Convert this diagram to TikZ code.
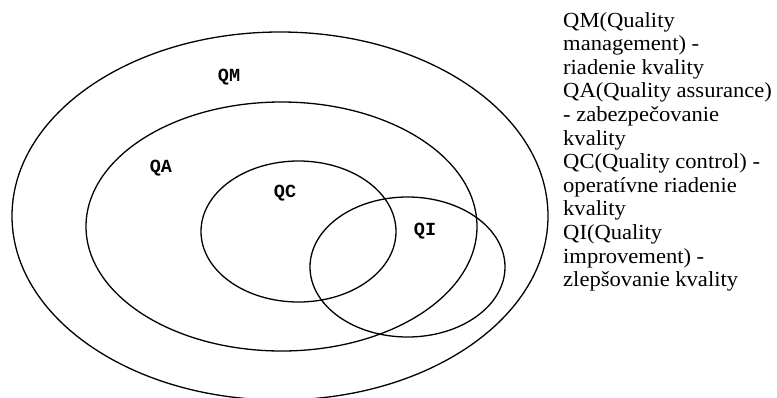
\documentclass[tikz,border=0pt]{standalone}
\usepackage{fontspec}
\setmainfont[FakeStretch=1.05]{Liberation Serif}
\newfontfamily\labelfont{Liberation Mono}
\usetikzlibrary{shapes.geometric}
\tikzset{
  ring/.style={draw=black, line width=1.3pt, ellipse, inner sep=0pt, fill=none},
  setlabel/.style={font=\labelfont\bfseries\fontsize{18.5}{18.5}\selectfont, inner sep=0pt, anchor=center},
  legendline/.style={font=\fontsize{21.5}{23.6}\selectfont, inner sep=0pt, anchor=base west}
}
\begin{document}
\begin{tikzpicture}[x=1pt,y=-1pt]
\useasboundingbox (0,0) rectangle (777,397);
\clip (0,0) rectangle (777,397);
\fill[white] (0,0) rectangle (777,397);
% ellipses
\node[ring, minimum width=536pt, minimum height=368pt] (qm) at (280,216) {};
\node[ring, minimum width=391pt, minimum height=249pt] (qa) at (281.5,226.5) {};
\node[ring, minimum width=195pt, minimum height=141pt] (qc) at (298.5,231.5) {};
\node[ring, minimum width=195pt, minimum height=140pt] (qi) at (407.5,267) {};
% labels
\node[setlabel] (tqm) at (229,77) {QM};
\node[setlabel] (tqa) at (161,168) {QA};
\node[setlabel] (tqc) at (285,193) {QC};
\node[setlabel] (tqi) at (425,231) {QI};
% legend
\node[legendline] (l1) at (563,27.0) {QM(Quality};
\node[legendline] (l2) at (563,50.6) {management) -};
\node[legendline] (l3) at (563,74.2) {riadenie kvality};
\node[legendline] (l4) at (563,97.8) {QA(Quality assurance)};
\node[legendline] (l5) at (563,121.4) {- zabezpečovanie};
\node[legendline] (l6) at (563,145.0) {kvality};
\node[legendline] (l7) at (563,168.6) {QC(Quality control) -};
\node[legendline] (l8) at (563,192.2) {operatívne riadenie};
\node[legendline] (l9) at (563,215.8) {kvality};
\node[legendline] (l10) at (563,239.4) {QI(Quality};
\node[legendline] (l11) at (563,263.0) {improvement) -};
\node[legendline] (l12) at (563,286.6) {zlepšovanie kvality};
\end{tikzpicture}
\end{document}
